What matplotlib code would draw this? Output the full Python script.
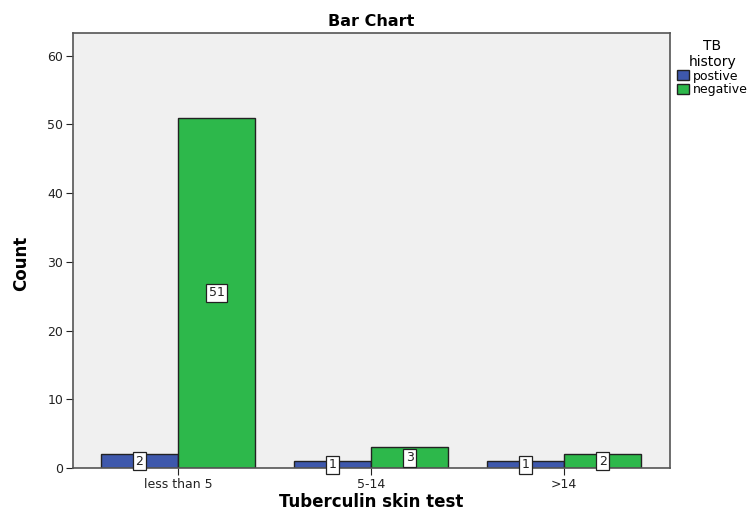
import numpy as np
import matplotlib.pyplot as plt
from matplotlib.patches import Patch

categories = ['less than 5', '5-14', '>14']
postive = [2, 1, 1]
negative = [51, 3, 2]
series_names = ['postive', 'negative']
colors = ['#3e58ac', '#2db84b']

fig = plt.figure(figsize=(7.5, 5.14), dpi=100)
ax = fig.add_axes([73/750, 1-468/514, 597/750, 435/514])
ax.set_facecolor('#f0f0f0')

x = np.arange(len(categories))
w = 0.4
for vals, off, c in [(postive, -w/2, colors[0]), (negative, w/2, colors[1])]:
    bars = ax.bar(x + off, vals, width=w, color=c, edgecolor='#222222', linewidth=1)
    for b, v in zip(bars, vals):
        ax.text(b.get_x() + b.get_width()/2, v/2, str(v), ha='center', va='center',
                fontsize=9, color='#222222',
                bbox=dict(boxstyle='square,pad=0.2', fc='white', ec='#222222', lw=0.9))

ax.set_xlim(-0.544, 2.549)
ax.set_ylim(0, 63.3)
ax.set_xticks(x)
ax.set_xticklabels(categories, fontsize=9, color='#222222')
ax.set_yticks(range(0, 61, 10))
ax.tick_params(axis='y', labelsize=9, colors='#222222', length=5, pad=2)
ax.tick_params(axis='x', length=5, colors='#222222', pad=2)
for s in ax.spines.values():
    s.set_color('#555555')
    s.set_linewidth(1.2)

ax.set_ylabel('Count', fontsize=12, fontweight='bold')
ax.yaxis.set_label_coords(-0.072, 0.47)
ax.set_xlabel('Tuberculin skin test', fontsize=12, fontweight='bold')
ax.xaxis.set_label_coords(0.5, -0.058)
ax.set_title('Bar Chart', fontsize=11.5, fontweight='bold', pad=5)

handles = [Patch(facecolor=c, edgecolor='#222222', label=n) for c, n in zip(colors, series_names)]
leg = fig.legend(handles=handles, title='TB\nhistory', loc='upper left',
                 bbox_to_anchor=(668/750, 1-30/514), frameon=False, fontsize=9,
                 title_fontsize=10, handlelength=1.0, handleheight=0.9,
                 handletextpad=0.3, labelspacing=0.05, borderpad=0.2)
leg.get_title().set_multialignment('center')

fig.savefig('out.png', dpi=100)
